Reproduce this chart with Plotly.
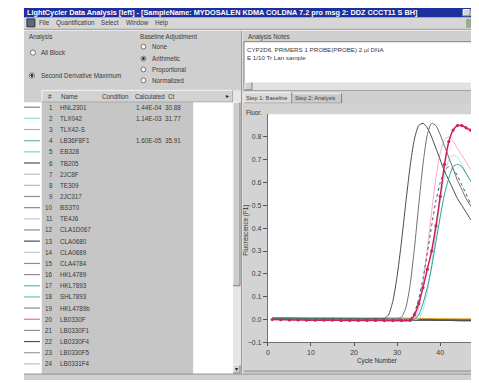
import plotly.graph_objects as go

# browser body margin is 8px, so the figure fills the rest of the 479x383 window
OFF = 8
W, H = 479 - OFF, 383 - OFF
FONT = "Liberation Sans, Arial, sans-serif"
UI = 6.3

# ---------------- data ----------------
X_TICKS = [0, 10, 20, 30, 40]
Y_TICKS = [-0.1, 0.0, 0.1, 0.2, 0.3, 0.4, 0.5, 0.6, 0.7, 0.8]

# non-amplifying samples (flat baselines)
neg_cycles = [1, 5, 10, 15, 20, 25, 30, 35, 40, 45, 49]
neg_gray = [0.004, 0.004, 0.003, 0.003, 0.002, 0.002, 0.001, -0.001, -0.002, -0.003, -0.003]
neg_dark = [0.002, 0.002, 0.001, 0.001, 0.000, 0.000, -0.001, -0.002, -0.003, -0.004, -0.004]
neg_silver = [0.006, 0.005, 0.005, 0.004, 0.004, 0.003, 0.002, 0.001, 0.000, -0.001, -0.001]
neg_orange = [0.008, 0.008, 0.007, 0.007, 0.006, 0.006, 0.006, 0.004, 0.003, 0.002, 0.002]
neg_teal = [0.003, 0.003, 0.002, 0.002, 0.001, 0.001, 0.000, -0.001, -0.002, -0.002, -0.003]

# amplifying samples
a_cycles = [1, 5, 10, 15, 20, 25, 27, 28, 29, 30, 31, 32, 33, 34, 35, 36, 37, 38,
            39, 40, 41, 42, 43, 44, 45, 46, 47, 48, 49]
a_vals = [0.005, 0.005, 0.004, 0.004, 0.003, 0.003, 0.004, 0.02, 0.08, 0.19, 0.34,
          0.51, 0.67, 0.79, 0.85, 0.86, 0.84, 0.80, 0.75, 0.70, 0.65, 0.61, 0.57,
          0.53, 0.50, 0.47, 0.44, 0.42, 0.40]

b_cycles = [1, 5, 10, 15, 20, 25, 30, 31, 32, 33, 34, 35, 36, 37, 38, 39, 40, 41,
            42, 43, 44, 45, 46, 47, 48, 49]
b_vals = [0.004, 0.004, 0.003, 0.003, 0.002, 0.002, 0.003, 0.01, 0.05, 0.15, 0.31,
          0.50, 0.68, 0.81, 0.86, 0.85, 0.81, 0.76, 0.71, 0.66, 0.61, 0.57, 0.53,
          0.50, 0.47, 0.45]

e_cycles = [1, 5, 10, 15, 20, 25, 30, 33, 34, 35, 36, 37, 38, 39, 40, 41, 42, 43,
            44, 45, 46, 47, 48, 49]
e_vals = [0.003, 0.003, 0.002, 0.002, 0.001, 0.001, 0.001, 0.002, 0.03, 0.09, 0.18,
          0.29, 0.41, 0.52, 0.60, 0.65, 0.67, 0.66, 0.63, 0.59, 0.55, 0.51, 0.48, 0.45]

d_cycles = [1, 5, 10, 15, 20, 25, 30, 34, 35, 36, 37, 38, 39, 40, 41, 42, 43, 44,
            45, 46, 47, 48, 49]
d_vals = [0.002, 0.002, 0.002, 0.001, 0.001, 0.000, 0.000, 0.001, 0.02, 0.07, 0.14,
          0.23, 0.34, 0.45, 0.55, 0.62, 0.67, 0.68, 0.67, 0.64, 0.61, 0.58, 0.55]

f_cycles = [1, 10, 20, 30, 34, 35, 36, 37, 38, 39, 40, 41, 42, 43, 44, 45, 46, 47, 48, 49]
f_vals = [0.003, 0.003, 0.002, 0.002, 0.003, 0.05, 0.16, 0.31, 0.47, 0.62, 0.73,
          0.79, 0.80, 0.78, 0.75, 0.72, 0.69, 0.66, 0.64, 0.62]

g_cycles = [1, 10, 20, 30, 35, 36, 37, 38, 39, 40, 41, 42, 43, 44, 45, 46, 47, 48, 49]
g_vals = [0.002, 0.002, 0.001, 0.001, 0.003, 0.04, 0.12, 0.24, 0.38, 0.52, 0.63,
          0.70, 0.72, 0.71, 0.68, 0.64, 0.61, 0.58, 0.55]

c_cycles = [1, 3, 5, 7, 9, 11, 13, 15, 17, 19, 21, 23, 25, 27, 29, 31, 33, 34, 35,
            36, 37, 38, 39, 40, 41, 42, 43, 44, 45, 46, 47, 48, 49]
c_vals = [0.000, -0.001, -0.002, -0.002, -0.003, -0.003, -0.003, -0.003, -0.004,
          -0.004, -0.004, -0.004, -0.004, -0.005, -0.005, -0.005, -0.004, 0.02, 0.07,
          0.14, 0.22, 0.30, 0.41, 0.54, 0.68, 0.78, 0.83, 0.85, 0.85, 0.84, 0.83,
          0.82, 0.81]

# sample table
row_nums = ["1", "2", "3", "4", "5", "6", "7", "8", "9", "10", "11", "12", "13", "14",
            "15", "16", "17", "18", "19", "20", "21", "22", "23", "24"]
sample_names = ["HNL2301", "TLX042", "TLX42-S", "LB36F8F1", "EB328", "TB205", "2JC8F",
                "TE309", "2JC317", "BS3T0", "TE4J6", "CLA1D067", "CLA0680", "CLA0689",
                "CLA4784", "HKL4789", "HKL7893", "SHL7893", "HKL4789b", "LB0330F",
                "LB0330F1", "LB0330F4", "LB0330F5", "LB0331F4"]
calc_conc = ["1.44E-04", "1.14E-03", "", "1.60E-05"] + [""] * 20
ct_vals = ["30.88", "31.77", "", "35.91"] + [""] * 20
row_colors = ["#808080", "#9fd6d0", "#b0b0b0", "#5fb8b0", "#7fd0e0", "#505050",
              "#c0c0c0", "#b8b8b8", "#909090", "#888888", "#c8c8c8", "#8a8a8a",
              "#404a70", "#c8c8c8", "#8c8c8c", "#909090", "#60b8b0", "#70c0b8",
              "#8a8a8a", "#e07090", "#909090", "#505050", "#9a9a9a", "#c0c0c0"]

# ---------------- helpers (arguments are window pixels) ----------------
shapes, annots = [], []


def X(p):
    return (p - OFF) / W


def Y(p):
    return 1 - (p - OFF) / H


def rect(x0, y0, x1, y1, fill, line=None, lw=0):
    shapes.append(dict(type="rect", xref="paper", yref="paper",
                       x0=X(x0), x1=X(x1), y0=Y(y1), y1=Y(y0),
                       fillcolor=fill, line=dict(color=line or fill, width=lw),
                       layer="below"))


def hline(x0, x1, y, color, lw=1):
    shapes.append(dict(type="line", xref="paper", yref="paper",
                       x0=X(x0), x1=X(x1), y0=Y(y), y1=Y(y),
                       line=dict(color=color, width=lw), layer="below"))


def vline(x, y0, y1, color, lw=1):
    shapes.append(dict(type="line", xref="paper", yref="paper",
                       x0=X(x), x1=X(x), y0=Y(y0), y1=Y(y1),
                       line=dict(color=color, width=lw), layer="below"))


def circle(cx, cy, r, fill, line="#707070"):
    shapes.append(dict(type="circle", xref="paper", yref="paper",
                       x0=X(cx - r), x1=X(cx + r), y0=Y(cy + r), y1=Y(cy - r),
                       fillcolor=fill, line=dict(color=line, width=1), layer="below"))


def text(x, y, s, size=UI, color="#3a3a3a", anchor="left", angle=0):
    annots.append(dict(xref="paper", yref="paper", x=X(x), y=Y(y), text=s,
                       showarrow=False, xanchor=anchor, yanchor="middle",
                       textangle=angle, borderpad=0,
                       font=dict(size=size, color=color, family=FONT)))


def bevel(x0, y0, x1, y1, fill="#d4d4d4"):
    rect(x0, y0, x1, y1, fill)
    hline(x0, x1, y0, "#f4f4f4")
    vline(x0, y0, y1, "#f4f4f4")
    hline(x0, x1, y1, "#808080")
    vline(x1, y0, y1, "#808080")


# ---------------- window chrome ----------------
WIN = "#cfcfcf"
rect(22, 8, 479, 383, WIN)
# title bar
rect(22, 8, 479, 17.5, "#1e2f9e")
text(24, 13, "<b>LightCycler Data Analysis [left] - [SampleName: MYDOSALEN KDMA COLDNA 7.2 pro msg 2: DDZ CCCT11 S BH]</b>",
     size=7.3, color="white")
bevel(463, 9.5, 470, 16)
bevel(471, 9.5, 478, 16)
# menu bar
rect(22, 17.5, 479, 29, "#d6d6d6")
rect(25, 19, 33, 27, "#5a6a80", "#303030", 1)
text(36, 23, "File")
text(53, 23, "Quantification")
text(98, 23, "Select")
text(123, 23, "Window")
text(153, 23, "Help")
rect(466, 19, 479, 28, "#9aaa90")
hline(22, 479, 29.5, "#909090")
hline(22, 479, 30.5, "#f0f0f0")

# ---- left panel controls ----
text(26, 37, "Analysis")
circle(31, 53, 2.6, "white")
text(38, 53, "All Block")
circle(30, 76, 2.6, "white")
circle(30, 76, 1.1, "#202020", "#202020")
text(38, 76, "Second Derivative Maximum")

text(138, 37, "Baseline Adjustment")
circle(142, 47, 2.4, "white")
text(150, 47, "None")
circle(142, 59, 2.4, "white")
circle(142, 59, 1.0, "#202020", "#202020")
text(150, 59, "Arithmetic")
circle(142, 70, 2.4, "white")
text(150, 70, "Proportional")
circle(142, 81, 2.4, "white")
text(150, 81, "Normalized")

# ---- sample table ----
bevel(40, 91, 232, 103, "#d2d2d2")
text(45, 97, "#")
text(58, 97, "Name")
text(99, 97, "Condition")
text(133, 97, "Calculated")
text(166, 97, "Ct")
text(229, 97, "▸", size=6, anchor="right", color="#202020")
rect(0, 103, 40, 383, "white")
rect(40, 103, 192, 377, "#c6c6c6")
rect(192, 103, 232, 377, "white")
# table scrollbar
rect(232, 91, 240, 377, "#e6e6e6")
bevel(232, 103, 239, 288, "#cccccc")
bevel(232, 368, 239, 376, "#d0d0d0")
text(235.5, 372, "▾", size=6, anchor="center", color="#202020")

ROW0, ROWH = 108, 11.25
for i, (n, nm, cc, ct, col) in enumerate(zip(row_nums, sample_names, calc_conc, ct_vals, row_colors)):
    yy = ROW0 + i * ROWH
    hline(22, 38, yy, col, 1.2)
    text(52, yy, n, anchor="right")
    text(57, yy, nm)
    if cc:
        text(134, yy, cc)
        text(163, yy, ct)

# bottom status
rect(22, 377, 479, 383, "#d0d0d0")
hline(22, 479, 377, "#909090")

# ---- right panel ----
vline(241, 31, 377, "#f2f2f2")
vline(240.5, 31, 377, "#9a9a9a")
text(246, 37, "Analysis Notes")
rect(243, 42, 479, 91, "white", "#808080", 1)
text(245, 50, "CYP2D6, PRIMERS 1 PROBE(PROBE) 2 µl DNA", size=6.2)
text(245, 57.5, "E 1/10 Tr Lan sample", size=6.2)
rect(244, 83, 479, 91, "#e2e2e2")
bevel(244, 83, 251, 90.5, "#d0d0d0")
bevel(471, 83, 478.5, 90.5, "#d0d0d0")

# tabs
bevel(291, 94, 341, 104, "#cacaca")
bevel(243, 93, 291, 104, "#dadada")
text(244.5, 98.5, "Step 1: Baseline", size=5.7)
text(293, 99, "Step 2: Analysis", size=5.7)

# chart panel
rect(243, 104, 479, 374, "#d3d3d3")
hline(243, 479, 374, "#8a8a8a")
rect(267, 115, 479, 345, "white")

text(244, 113, "Fluor.", size=6.3, color="#303030")
text(245.5, 232, "Fluorescence (F1)", size=6.3, color="#303030", angle=-90, anchor="center")
text(377, 364, "Cycle Number", size=6.3, color="#303030", anchor="center")

# ---------------- traces ----------------
fig = go.Figure()


def add(xs, ys, color, width=1.0, dash="solid", marker=False):
    fig.add_trace(go.Scatter(
        x=xs, y=ys, mode="lines+markers" if marker else "lines",
        line=dict(color=color, width=width, dash=dash, shape="spline", smoothing=0.6),
        marker=dict(size=3.2, color=color) if marker else None,
        hoverinfo="skip"))


add(neg_cycles, neg_silver, "#a8a8a8", 2.0)
add(neg_cycles, neg_teal, "#60b0b0", 1.5)
add(neg_cycles, neg_orange, "#e8b040", 1.5)
add(neg_cycles, neg_gray, "#7a7a7a", 2.0)
add(neg_cycles, neg_dark, "#505050", 1.5)
add(g_cycles, g_vals, "#a8e2e4", 1.0)
add(f_cycles, f_vals, "#f4a8c8", 1.0)
add(a_cycles, a_vals, "#4a4a4a", 1.0)
add(b_cycles, b_vals, "#6e6e6e", 1.0)
add(e_cycles, e_vals, "#3e5a5a", 1.0, "dot")
add(d_cycles, d_vals, "#2aa090", 1.0)
add(c_cycles, c_vals, "#d0205a", 1.5, "solid", marker=True)

fig.update_layout(
    width=W, height=H, autosize=False,
    margin=dict(l=0, r=0, t=0, b=0, pad=0),
    paper_bgcolor="white", plot_bgcolor="white",
    showlegend=False, shapes=shapes, annotations=annots,
    xaxis=dict(domain=[X(267), 1], range=[0, 49], tickvals=X_TICKS,
               ticks="outside", ticklen=3, tickcolor="#555", showline=True,
               linecolor="#707070", linewidth=1, showgrid=False, zeroline=False,
               tickfont=dict(size=7, color="#404040", family=FONT), fixedrange=True),
    yaxis=dict(domain=[Y(345), Y(115)], range=[-0.1, 0.9], tickvals=Y_TICKS,
               tickformat=".1f", ticks="outside", ticklen=4, tickcolor="#555",
               showline=True, linecolor="#707070", linewidth=1, showgrid=False,
               zeroline=False, tickfont=dict(size=7, color="#404040", family=FONT),
               fixedrange=True),
)

fig.write_html("out.html", config={"displayModeBar": False})
